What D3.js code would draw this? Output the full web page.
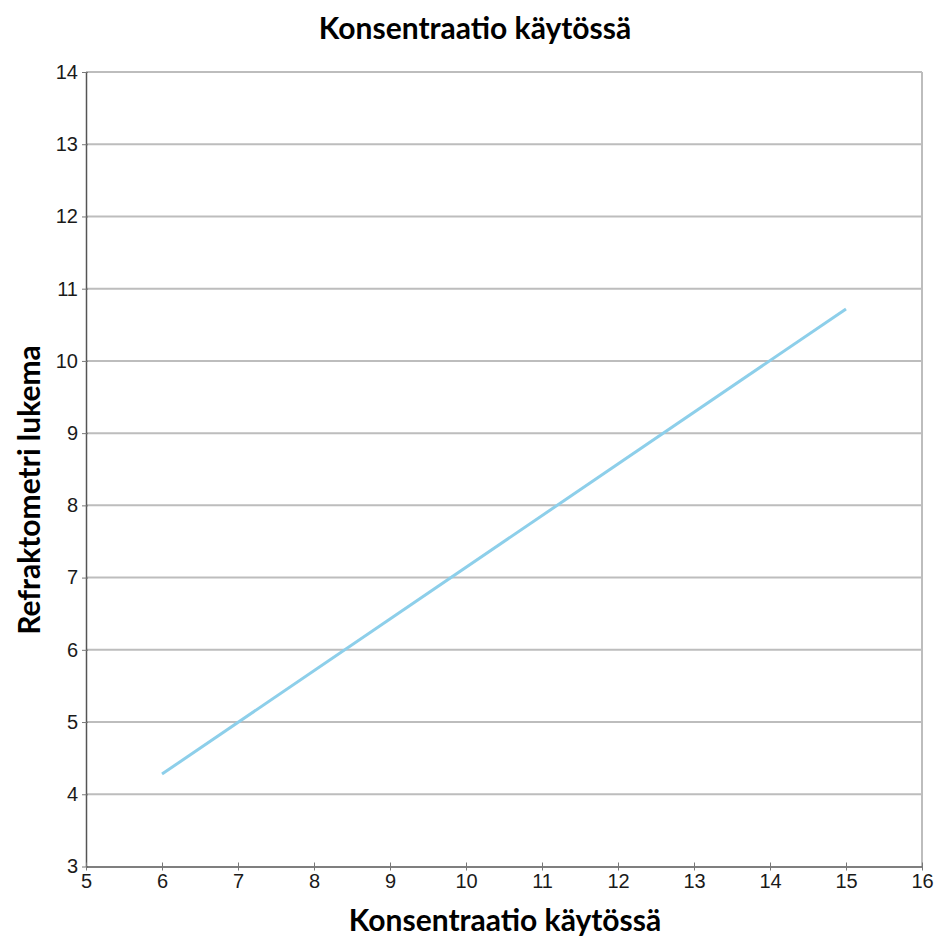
<!DOCTYPE html>
<html><head><meta charset="utf-8">
<script src="https://cdn.jsdelivr.net/npm/d3@7"></script>
<style>body{margin:0;background:#fff}</style>
</head><body>
<script>
const xValues = [6, 15];
const yValues = [4.28, 10.72];
const xTicks = [5,6,7,8,9,10,11,12,13,14,15,16];
const yTicks = [3,4,5,6,7,8,9,10,11,12,13,14];
const title = "Konsentraatio käytössä";
const xLabel = "Konsentraatio käytössä";
const yLabel = "Refraktometri lukema";

const W = 936, H = 938;
const m = {l: 86, r: 14, t: 72, b: 72};
const svg = d3.select("body").append("svg").attr("width", W).attr("height", H);
const x = d3.scaleLinear().domain([5,16]).range([m.l, W - m.r]);
const y = d3.scaleLinear().domain([3,14]).range([H - m.b + 0.5, m.t]);

// gridlines
svg.append("g").selectAll("line").data(yTicks.filter(d => d > 3)).join("line")
  .attr("x1", x(5)).attr("x2", x(16)).attr("y1", d => y(d)).attr("y2", d => y(d))
  .attr("stroke", "#bdbdbd").attr("stroke-width", 2);
// right border
svg.append("line").attr("x1", x(16)).attr("x2", x(16)).attr("y1", y(14)).attr("y2", y(3))
  .attr("stroke", "#bdbdbd").attr("stroke-width", 2);

const font = "'Liberation Sans', Arial, sans-serif";
const yAxis = svg.append("g").attr("transform", `translate(${x(5)},0)`)
  .call(d3.axisLeft(y).tickValues(yTicks).tickSize(5).tickSizeOuter(0).tickPadding(3));
const xAxis = svg.append("g").attr("transform", `translate(0,${y(3)})`)
  .call(d3.axisBottom(x).tickValues(xTicks).tickSize(5).tickSizeOuter(0).tickPadding(2));
[yAxis, xAxis].forEach(a => {
  a.select(".domain").attr("stroke", "#555").attr("stroke-width", 1.5);
  a.selectAll(".tick line").attr("stroke", "#777");
  a.selectAll("text").style("font-size", "20px").style("font-family", font).attr("fill", "#1a1a1a");
});
xAxis.selectAll(".tick line").attr("y1", -4).attr("y2", 4);
yAxis.selectAll(".tick line").attr("x1", -4).attr("x2", 2);

const pts = xValues.map((v, i) => [v, yValues[i]]);
svg.append("path").datum(pts)
  .attr("d", d3.line().x(d => x(d[0])).y(d => y(d[1])))
  .attr("fill", "none").attr("stroke", "#8dcfea").attr("stroke-width", 3);

const tf = "Lato, 'Open Sans', sans-serif";
svg.append("text").attr("x", 475).attr("y", 39).attr("text-anchor", "middle")
  .attr("font-family", tf).attr("font-weight", "bold").attr("font-size", 30).text(title);
svg.append("text").attr("x", 505).attr("y", 931).attr("text-anchor", "middle")
  .attr("font-family", tf).attr("font-weight", "bold").attr("font-size", 30).text(xLabel);
svg.append("text").attr("transform", "translate(40,490) rotate(-90)").attr("text-anchor", "middle")
  .attr("font-family", tf).attr("font-weight", "bold").attr("font-size", 30).text(yLabel);
</script>
</body></html>
